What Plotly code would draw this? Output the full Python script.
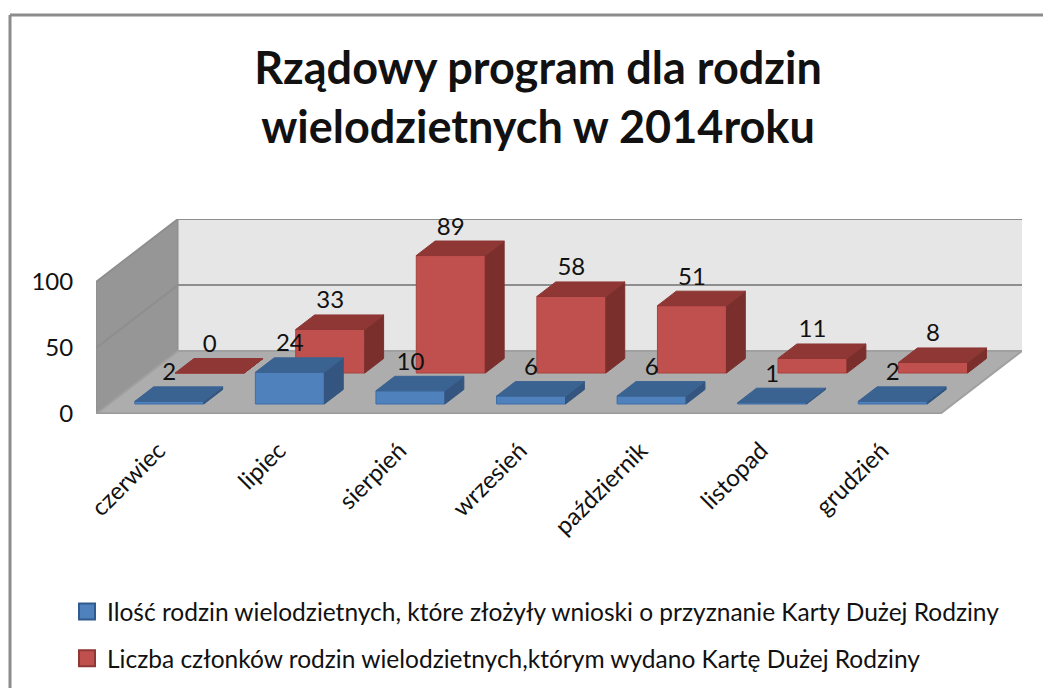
import plotly.graph_objects as go

categories = ["czerwiec", "lipiec", "sierpień", "wrzesień", "październik", "listopad", "grudzień"]
blue_values = [2, 24, 10, 6, 6, 1, 2]
red_values = [0, 33, 89, 58, 51, 11, 8]
blue_name = "Ilość rodzin wielodzietnych, które złożyły wnioski o przyznanie Karty Dużej Rodziny"
red_name = "Liczba członków rodzin wielodzietnych,którym wydano Kartę Dużej Rodziny"
title_text = "Rządowy program dla rodzin<br>wielodzietnych w 2014roku"

OFF = 8  # the page body margin
W, H = 1051, 688
FONT = "Lato"
# plot rectangle in pixels of the window; x unit = category, y unit = chart value
L, R, T, B = 96, 1022, 219, 414
PITCH = (940 - 96) / 7
PXV = 1.32
DX = 82 / PITCH        # full depth of the floor, in x units
DY = 63 / PXV          # full depth of the floor, in y units
XMAX = (R - L) / PITCH
YMAX = (B - T) / PXV
BAR_W = 69 / PITCH
SD = 14.5 / 63         # bar depth as share of floor depth
LABEL_UP = 27 / PXV


def proj(x, d, v):
    return x + d * DX, v + d * DY


def px(xp):
    return (xp - L) / (R - L)


def py(yp):
    return (B - yp) / (B - T)


def poly(points):
    xs, ys = zip(*[proj(*p) for p in points])
    return list(xs) + [xs[0], None], list(ys) + [ys[0], None]


def add_face(fig, points_list, fill, line, width=1):
    xs, ys = [], []
    for pts in points_list:
        a, b = poly(pts)
        xs += a
        ys += b
    fig.add_trace(go.Scatter(x=xs, y=ys, mode="lines", fill="toself", fillcolor=fill,
                             line=dict(color=line, width=width), showlegend=False, hoverinfo="skip"))


fig = go.Figure()

# walls and floor
add_face(fig, [[(0, 1, 0), (XMAX - DX, 1, 0), (XMAX - DX, 1, 100), (0, 1, 100)]], "#E6E6E6", "#E6E6E6")
add_face(fig, [[(0, 0, 0), (0, 1, 0), (0, 1, 100), (0, 0, 100)]], "#969696", "#8C8C8C")
add_face(fig, [[(0, 0, 0), (7, 0, 0), (7, 1, 0), (0, 1, 0)]], "#ADADAD", "#A0A0A0", 2)
# gridlines on walls
for v in (50, 100):
    a = [proj(0, 0, v), proj(0, 1, v), proj(XMAX - DX, 1, v)]
    fig.add_trace(go.Scatter(x=[p[0] for p in a], y=[p[1] for p in a], mode="lines", cliponaxis=False,
                             line=dict(color="#8E8E8E", width=2), showlegend=False, hoverinfo="skip"))
fig.add_trace(go.Scatter(x=[0, 7], y=[0, 0], mode="lines", cliponaxis=False, line=dict(color="#999999", width=3),
                         showlegend=False, hoverinfo="skip"))


def add_series(values, d0, front, top, side, edge):
    fr, tp, sd = [], [], []
    for i, v in enumerate(values):
        x0 = i + 0.5 - BAR_W / 2
        x1 = i + 0.5 + BAR_W / 2
        d1 = d0 + SD
        fr.append([(x0, d0, 0), (x1, d0, 0), (x1, d0, v), (x0, d0, v)])
        tp.append([(x0, d0, v), (x1, d0, v), (x1, d1, v), (x0, d1, v)])
        sd.append([(x1, d0, 0), (x1, d1, 0), (x1, d1, v), (x1, d0, v)])
    add_face(fig, fr, front, edge)
    add_face(fig, sd, side, side)
    add_face(fig, tp, top, top)


def add_labels(values, d0):
    pts = [proj(i + 0.5, d0, v + LABEL_UP) for i, v in enumerate(values)]
    fig.add_trace(go.Scatter(x=[p[0] for p in pts], y=[p[1] for p in pts], mode="text", cliponaxis=False,
                             text=[str(v) for v in values], textposition="middle center",
                             textfont=dict(family=FONT, size=24, color="#111111"),
                             showlegend=False, hoverinfo="skip"))


RED_D = 41 / 63
BLUE_D = 10 / 63
add_series(red_values, RED_D, "#C0504D", "#8E3735", "#7B2F2D", "#A8423F")
add_series(blue_values, BLUE_D, "#4F81BD", "#3B6392", "#33557F", "#3F6FA8")
add_labels(red_values, RED_D)
add_labels(blue_values, BLUE_D)

# legend entries
fig.add_trace(go.Scatter(x=[None], y=[None], mode="markers", name=blue_name, legendgroup="a",
                         marker=dict(symbol="square", size=16, color="#4F81BD", line=dict(color="#2F5B8F", width=2))))
fig.add_trace(go.Scatter(x=[None], y=[None], mode="markers", name=red_name, legendgroup="b",
                         marker=dict(symbol="square", size=16, color="#C0504D", line=dict(color="#8E3735", width=2))))

frame = [dict(type="line", xref="paper", yref="paper", x0=px(a), y0=py(b), x1=px(c), y1=py(d),
              line=dict(color="#8C8C8C", width=3), layer="below")
         for a, b, c, d in [(10, 15, 1060, 15), (10, 15, 10, 696)]]

fig.update_layout(
    width=W, height=H, autosize=False,
    paper_bgcolor="white", plot_bgcolor="rgba(0,0,0,0)",
    margin=dict(l=L - OFF, r=W + OFF - R, t=T - OFF, b=H + OFF - B, pad=0, autoexpand=False),
    shapes=frame,
    title=dict(text=title_text, x=(538 - OFF) / W, xanchor="center", y=1 - (84 - OFF) / H, yanchor="middle",
               font=dict(family=FONT, size=45, color="#111111", weight="bold")),
    xaxis=dict(range=[0, XMAX], tickvals=[i + 0.5 for i in range(7)], ticktext=categories,
               tickangle=-45, showgrid=False, zeroline=False, showline=False, ticks="outside",
               ticklen=12, tickcolor="rgba(0,0,0,0)", ticklabelshift=2,
               tickfont=dict(family=FONT, size=24, color="#111111")),
    yaxis=dict(range=[0, YMAX], tickvals=[0, 50, 100], showgrid=False, zeroline=False, showline=False,
               ticks="outside", ticklen=17, tickcolor="rgba(0,0,0,0)",
               tickfont=dict(family=FONT, size=24, color="#111111")),
    legend=dict(x=px(67), y=py(589), xanchor="left", yanchor="top", bgcolor="rgba(0,0,0,0)",
                font=dict(family=FONT, size=24.5, color="#111111"), tracegroupgap=12,
                orientation="v"),
)
fig.write_html("out.html")
